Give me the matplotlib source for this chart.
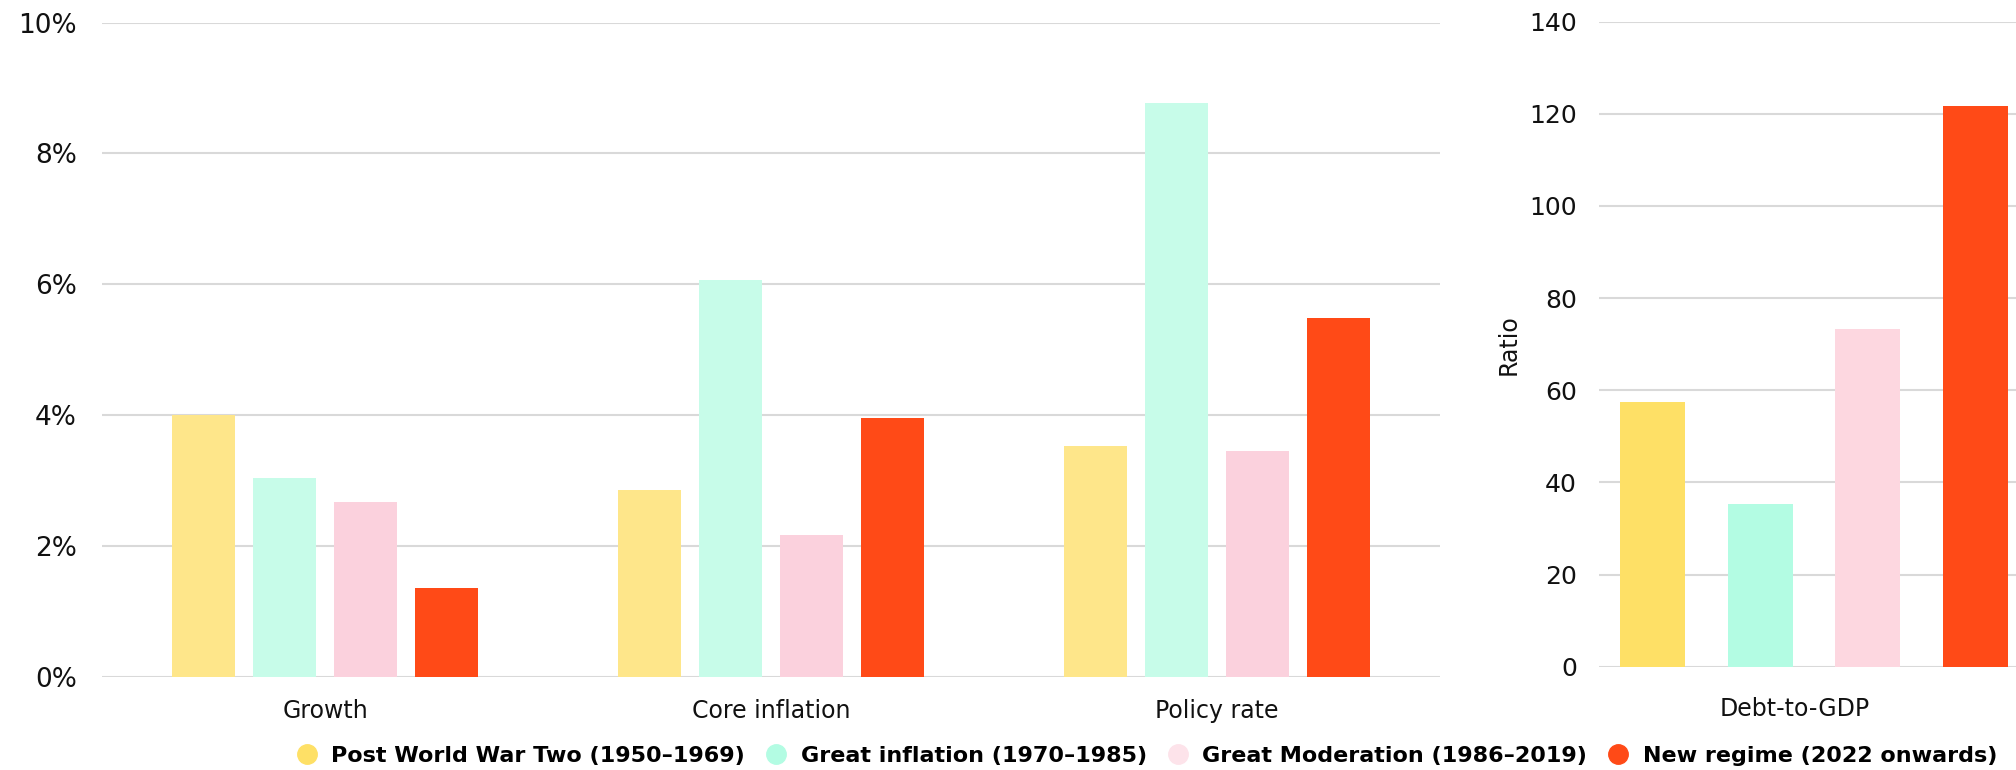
import matplotlib
matplotlib.use("Agg")
import matplotlib.pyplot as plt
from matplotlib.lines import Line2D
from matplotlib.ticker import FuncFormatter
import numpy as np

# Regimes and their values
regimes = ["Post World War Two (1950\u20131969)", "Great inflation (1970\u20131985)",
           "Great Moderation (1986\u20132019)", "New regime (2022 onwards)"]
metrics = ["Growth", "Core inflation", "Policy rate"]

growth = [4.0, 3.03, 2.67, 1.36]
core_inflation = [2.85, 6.06, 2.17, 3.96]
policy_rate = [3.53, 8.77, 3.45, 5.49]

debt_to_gdp = [57.4, 35.4, 73.3, 121.7]

left_colors = ["#FEE68A", "#C7FCE9", "#FBD1DD", "#FF4A17"]
right_colors = ["#FEE066", "#B3FCE3", "#FDD7E0", "#FF4A17"]
legend_colors = ["#FEE066", "#B3FCE3", "#FDE3EA", "#FF4A17"]

grid_c = "#D9D9D9"
text_c = "#111111"

plt.rcParams["font.family"] = "DejaVu Sans"

fig = plt.figure(figsize=(20.16, 7.7), dpi=100)

# left panel: percentage metrics
ax = fig.add_axes([102 / 2016, 1 - 676.6 / 770, 1338 / 2016, 654 / 770])
values = np.array([growth, core_inflation, policy_rate])
x = np.arange(len(metrics))
step = 0.1817
width = 0.143
for i in range(len(regimes)):
    ax.bar(x + (i - 1.5) * step, values[:, i], width=width, color=left_colors[i], zorder=3)
ax.set_xlim(-0.5, 2.5)
ax.set_ylim(0, 10)
ax.set_yticks(np.arange(0, 11, 2))
ax.yaxis.set_major_formatter(FuncFormatter(lambda v, p: f"{v:.0f}%"))
ax.set_xticks(x)
ax.set_xticklabels(metrics)
ax.grid(axis="y", color=grid_c, lw=1.5, zorder=0)
for s in ax.spines.values():
    s.set_visible(False)
ax.tick_params(axis="y", length=0, pad=18, labelsize=19, labelcolor=text_c)
ax.tick_params(axis="x", length=0, pad=16, labelsize=17, labelcolor=text_c)

# right panel: debt-to-GDP
ax2 = fig.add_axes([1599 / 2016, 1 - 666.8 / 770, 417 / 2016, 645.2 / 770])
xr = np.arange(len(regimes))
ax2.bar(xr, debt_to_gdp, width=0.604, color=right_colors, zorder=3)
ax2.set_xlim(-0.5, 3.377)
ax2.set_ylim(0, 140)
ax2.set_yticks(np.arange(0, 141, 20))
ax2.set_xticks([1.32])
ax2.set_xticklabels(["Debt-to-GDP"])
ax2.set_ylabel("Ratio", fontsize=17, color=text_c, labelpad=6)
ax2.grid(axis="y", color=grid_c, lw=1.5, zorder=0)
for s in ax2.spines.values():
    s.set_visible(False)
ax2.tick_params(axis="y", length=0, pad=16, labelsize=18, labelcolor=text_c)
ax2.tick_params(axis="x", length=0, pad=22, labelsize=17, labelcolor=text_c)

handles = [Line2D([], [], marker="o", ls="", markersize=14, markerfacecolor=c,
                  markeredgecolor=c) for c in legend_colors]
fig.legend(handles, regimes, loc="center", bbox_to_anchor=(1141 / 2016, 1 - 756 / 770),
           ncol=4, frameon=False, handletextpad=0.1, columnspacing=0.4,
           prop={"weight": "bold", "size": 16}, borderaxespad=0, borderpad=0)

fig.savefig("out.png", dpi=100)
